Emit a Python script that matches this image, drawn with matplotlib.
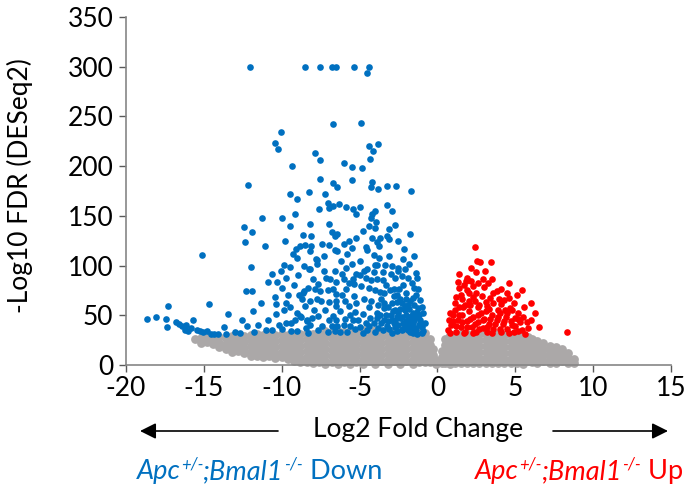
import matplotlib
matplotlib.use('Agg')
import matplotlib.pyplot as plt
import matplotlib.transforms as mtransforms
import numpy as np

plt.rcParams['font.family'] = ['Lato', 'DejaVu Sans']
plt.rcParams['axes.unicode_minus'] = False

# ---------------- data (log2 fold change, -log10 FDR) ----------------
down_points = [
    (-12.04, 300), (-8.5, 300), (-7.54, 300), (-6.77, 300), (-6.51, 300), (-5.36, 300), (-4.39, 300), (-4.5, 294),
    (-6.7, 242), (-4.89, 243), (-10.05, 234), (-10.41, 223), (-10.22, 217), (-7.86, 213), (-7.54, 206), (-5.98, 203),
    (-5.47, 199), (-4.86, 198), (-4.41, 220), (-3.83, 222), (-4.12, 215), (-4.31, 207), (-9.32, 200), (-7.54, 187),
    (-6.7, 183), (-6.47, 179), (-5.5, 186), (-4.2, 184), (-4.25, 179), (-3.8, 177), (-3.26, 180), (-2.68, 180),
    (-1.71, 175), (-8.23, 174), (-7.22, 172), (-12.14, 181), (-9.47, 172), (-9.02, 167), (-7.0, 163), (-6.7, 160),
    (-6.96, 158), (-7.58, 157), (-6.32, 162), (-11.28, 148), (-9.98, 148), (-9.15, 152), (-12.42, 139), (-9.45, 140),
    (-8.16, 142), (-6.95, 142), (-5.87, 159), (-5.4, 157), (-4.99, 159), (-5.25, 152), (-4.0, 155), (-4.2, 152),
    (-4.25, 148), (-3.94, 144), (-3.22, 161), (-2.92, 155), (-4.41, 140), (-3.99, 138), (-3.09, 137), (-2.7, 141),
    (-11.93, 134), (-12.38, 124), (-11.07, 120), (-8.63, 131), (-8.12, 130), (-6.79, 134), (-6.58, 130), (-7.43, 122),
    (-6.96, 121), (-8.14, 120), (-8.82, 120), (-9.1, 117), (-9.27, 112), (-7.8, 107), (-7.71, 102), (-9.83, 101),
    (-9.47, 99), (-8.2, 97), (-8.93, 91), (-10.03, 95), (-11.95, 99), (-7.15, 88), (-6.9, 86), (-6.53, 83),
    (-10.86, 83), (-10.28, 83), (-10.0, 77), (-12.27, 74), (-11.91, 74), (-9.58, 70), (-8.87, 70), (-8.33, 77),
    (-8.57, 74), (-7.69, 81), (-7.54, 74), (-10.43, 68), (-10.35, 61), (-9.45, 58), (-8.72, 66), (-8.18, 64),
    (-7.75, 66), (-6.98, 63), (-6.49, 64), (-6.53, 59), (-11.86, 54), (-12.53, 45), (-12.25, 39), (-12.66, 32),
    (-11.03, 35), (-10.64, 35), (-10.35, 51), (-9.85, 55), (-9.04, 52), (-8.76, 48), (-8.39, 45), (-9.15, 45),
    (-9.4, 42), (-8.16, 40), (-9.96, 36), (-9.38, 34), (-9.04, 34), (-8.44, 37), (-8.05, 47), (-7.65, 49),
    (-7.41, 39), (-6.96, 45), (-6.75, 39), (-6.51, 45), (-7.5, 64),
    (-8.52, 121), (-8.18, 115), (-7.75, 106), (-8.23, 97), (-7.88, 76), (-8.63, 72), (-8.48, 59), (-8.82, 49), (-8.39, 44),
    (-1.78, 132), (-6.43, 132), (-4.23, 128), (-3.71, 128), (-3.26, 130), (-3.13, 127), (-3.9, 124), (-3.77, 120),
    (-4.59, 119), (-4.5, 116), (-6.6, 116), (-6.47, 115), (-5.83, 112), (-4.09, 111), (-3.75, 108), (-2.13, 117),
    (-2.23, 107), (-1.84, 102), (-5.47, 102), (-4.03, 101), (-3.86, 101), (-3.35, 101), (-4.55, 97), (-4.09, 94),
    (-3.47, 94), (-2.55, 98), (-2.06, 97), (-2.51, 95), (-1.36, 93), (-6.6, 95), (-6.15, 92), (-5.23, 92),
    (-4.71, 95), (-4.99, 91), (-6.02, 86), (-5.44, 86), (-4.29, 85), (-3.88, 86), (-3.47, 85), (-1.91, 88),
    (-1.61, 82), (-5.38, 81), (-4.89, 79), (-6.69, 76), (-5.87, 76), (-4.37, 77), (-3.02, 75), (-2.47, 76),
    (-2.02, 72), (-1.48, 77), (-1.23, 76), (-3.69, 73), (-3.41, 72), (-2.77, 69), (-1.37, 70), (-6.51, 71),
    (-5.34, 69), (-4.74, 66), (-4.29, 64), (-5.94, 64), (-1.76, 64), (-3.8, 60), (-5.66, 59), (-4.39, 58),
    (-3.15, 58), (-2.58, 63), (-2.08, 59), (-1.23, 57), (-6.26, 54), (-5.29, 53), (-4.78, 51), (-3.88, 52),
    (-2.83, 54), (-1.55, 52), (-6.73, 49), (-5.94, 46), (-5.44, 45), (-4.33, 47), (-3.43, 45), (-2.4, 47),
    (-1.87, 45), (-1.12, 45), (-6.47, 39), (-5.61, 39), (-4.97, 38), (-4.37, 39), (-3.8, 37), (-3.26, 39),
    (-2.72, 38), (-2.08, 39), (-1.44, 37), (-0.9, 34), (-6.26, 33), (-4.76, 32), (-4.0, 33), (-2.94, 32), (-1.76, 33),
    (-3.0, 50), (-2.7, 44), (-2.5, 52), (-2.2, 42), (-2.0, 50), (-1.8, 56), (-1.6, 42), (-1.4, 48), (-1.2, 40),
    (-1.0, 38), (-2.9, 62), (-2.6, 34), (-2.3, 35), (-1.9, 35), (-1.6, 32), (-1.3, 31), (-1.0, 32), (-3.3, 50),
    (-2.4, 56), (-2.0, 66), (-1.7, 49), (-1.5, 60), (-2.8, 42), (-3.1, 36), (-3.6, 42), (-3.9, 47), (-4.6, 42),
    (-5.1, 45), (-5.6, 50), (-6.0, 40), (-7.2, 55), (-7.9, 55), (-5.2, 62), (-3.6, 66), (-2.2, 80), (-2.7, 88),
    (-3.1, 110), (-5.0, 105), (-5.7, 125), (-4.8, 135), (-2.5, 125),
    (-9.8, 125), (-9.0, 108), (-8.6, 100), (-7.3, 95), (-6.2, 105), (-5.5, 118), (-5.9, 98), (-7.0, 75),
    (-6.1, 70), (-5.7, 82), (-9.7, 88), (-9.2, 80), (-10.6, 92), (-11.3, 62), (-10.9, 45), (-9.7, 62),
    (-8.0, 86), (-7.3, 110), (-6.0, 122), (-5.2, 128), (-4.6, 88), (-4.0, 75), (-3.3, 80), (-3.0, 92),
    (-2.9, 100), (-2.3, 90), (-1.5, 110), (-1.3, 88), (-1.1, 65), (-0.9, 52), (-0.8, 42), (-1.2, 50),
    (-1.0, 58), (-2.3, 62), (-2.6, 70), (-3.4, 57), (-3.7, 50), (-4.1, 42), (-4.5, 35), (-5.3, 36),
    (-5.8, 33), (-6.6, 34), (-7.0, 33), (-7.7, 35), (-8.3, 32), (-9.7, 42), (-10.2, 40), (-11.5, 40),
    (-11.8, 33), (-13.0, 33), (-13.6, 31),
    (-2.9, 45), (-2.7, 55), (-2.5, 40), (-2.3, 48), (-2.1, 55), (-1.9, 41), (-1.7, 38), (-1.5, 45),
    (-1.3, 53), (-1.1, 42), (-2.6, 48), (-2.2, 36), (-1.8, 46), (-1.4, 35), (-3.2, 44), (-3.5, 35),
    (-3.4, 62), (-2.0, 44), (-1.6, 67), (-1.9, 60), (-2.4, 66), (-2.8, 76),
    (-18.63, 46), (-18.05, 48), (-17.41, 46), (-17.28, 59), (-17.39, 38), (-16.81, 43), (-16.58, 41), (-16.4, 39),
    (-16.15, 40), (-16.23, 35), (-16.04, 34), (-15.83, 37), (-15.68, 45), (-15.46, 35), (-15.25, 34), (-15.04, 33),
    (-14.82, 34), (-14.65, 61), (-14.54, 31), (-14.33, 31), (-14.11, 31), (-13.71, 38), (-13.43, 51), (-15.1, 111),
]

up_points = [
    (2.41, 119), (2.56, 105), (2.74, 104), (3.46, 104), (2.14, 98), (2.48, 94), (3.04, 95), (1.41, 92),
    (1.84, 84), (2.16, 84), (3.25, 82), (4.6, 82), (1.39, 77), (1.92, 75), (2.27, 79), (3.8, 74),
    (4.45, 72), (5.43, 75), (1.6, 66), (2.31, 68), (2.87, 69), (3.38, 67), (3.98, 66), (4.62, 67),
    (5.99, 62), (5.56, 58), (6.25, 52), (6.55, 38), (8.3, 33), (1.15, 55), (1.67, 58), (2.1, 60),
    (2.63, 58), (3.21, 59), (4.35, 55), (4.67, 57), (5.16, 46), (5.74, 43), (0.74, 45), (0.7, 35),
    (0.9, 40), (1.0, 50), (1.2, 33), (1.3, 45), (1.5, 38), (1.6, 50), (1.8, 33), (1.9, 44), (2.0, 54),
    (2.2, 38), (2.3, 48), (2.5, 33), (2.6, 43), (2.8, 52), (2.9, 37), (3.0, 46), (3.2, 33), (3.3, 41),
    (3.5, 50), (3.6, 36), (3.8, 45), (3.9, 55), (4.1, 33), (4.2, 41), (4.4, 48), (4.5, 36), (4.7, 44),
    (4.9, 33), (5.0, 39), (5.2, 52), (5.4, 35), (5.6, 31), (1.1, 62), (1.5, 70), (2.0, 64), (2.5, 72),
    (3.0, 78), (3.6, 62), (4.1, 61), (4.9, 62), (1.9, 88), (2.9, 86), (5.1, 70), (0.8, 52), (1.4, 58),
    (3.3, 56), (4.0, 52), (2.7, 60),
    (0.8, 32), (1.0, 44), (1.2, 39), (1.4, 50), (1.6, 43), (1.7, 32), (1.9, 38), (2.1, 46), (2.3, 32),
    (2.4, 41), (2.6, 50), (2.7, 36), (2.9, 45), (3.1, 54), (3.2, 38), (3.4, 46), (3.5, 32), (3.7, 41),
    (3.9, 48), (4.0, 36), (4.3, 44), (4.5, 52), (4.6, 32), (4.8, 40), (5.0, 47), (5.2, 34), (5.3, 43),
    (5.5, 48), (1.2, 68), (1.8, 60), (2.4, 64), (3.1, 63), (3.6, 72), (4.3, 65), (4.8, 55), (5.8, 37),
    (6.0, 45), (1.7, 80), (2.6, 82), (3.5, 86), (4.1, 76), (2.0, 72), (1.3, 83),
]

ns_col_x = [-15.6, -15.2, -14.8, -14.4, -14.0, -13.6, -13.2, -12.8, -12.4, -12.0, -11.6, -11.2, -10.8,
            -10.4, -10.0, -9.6, -9.2, -8.8, -8.4, -8.0, -7.6, -7.2, -6.8, -6.4, -6.0, -5.6, -5.2, -4.8,
            -4.4, -4.0, -3.6, -3.2, -2.8, -2.4, -2.0, -1.6, -1.2, -0.8, -0.5, -0.3, -0.1, 0.1, 0.3, 0.5,
            0.8, 1.1, 1.5, 1.9, 2.3, 2.7, 3.1, 3.5, 3.9, 4.3, 4.7, 5.1, 5.5, 5.8, 6.1, 6.4, 6.8, 7.2, 7.6,
            8.0, 8.4, 8.8]
ns_col_y = [
    [26], [27, 22], [28, 23], [26, 21], [28, 22, 18], [27, 21, 16], [29, 24, 18, 13], [30, 25, 19, 14],
    [29, 23, 17, 12], [30, 25, 19, 13, 9], [31, 26, 20, 14, 9], [30, 24, 18, 12, 8], [31, 26, 20, 14, 9],
    [30, 24, 18, 12, 7], [31, 25, 19, 13, 8], [30, 24, 18, 12, 6], [31, 26, 20, 14, 8, 4],
    [31, 25, 19, 13, 7, 3], [32, 26, 20, 14, 8, 3], [31, 25, 19, 13, 7, 2], [33, 27, 21, 15, 9, 3],
    [34, 28, 22, 16, 10, 4, 1], [33, 27, 21, 15, 9, 3], [34, 28, 22, 16, 10, 4, 1], [33, 27, 21, 15, 9, 3],
    [34, 28, 22, 16, 10, 4, 1], [33, 27, 21, 15, 9, 3], [35, 29, 23, 17, 11, 5, 1], [34, 28, 22, 16, 10, 4],
    [35, 29, 23, 17, 11, 5, 1], [34, 28, 22, 16, 10, 4], [35, 29, 23, 17, 11, 5, 1], [34, 28, 22, 16, 10, 4],
    [35, 29, 23, 17, 11, 5, 1], [34, 28, 22, 16, 10, 4], [34, 29, 23, 17, 11, 5, 1], [33, 27, 21, 15, 9, 3],
    [32, 26, 20, 14, 8, 3], [26, 20, 14, 8, 3], [16, 10, 4], [5, 1], [3], [14, 8, 2], [26, 20, 14, 8, 2],
    [30, 24, 18, 12, 6, 1], [31, 25, 19, 13, 7, 2], [31, 25, 19, 13, 7, 2], [31, 25, 19, 13, 7, 2],
    [31, 25, 19, 13, 7, 2], [31, 25, 19, 13, 7, 2], [31, 25, 19, 13, 7, 2], [31, 25, 19, 13, 7, 2],
    [31, 25, 19, 13, 7, 2], [30, 24, 18, 12, 6, 2], [30, 24, 18, 12, 6, 2], [30, 24, 18, 12, 6, 2],
    [29, 23, 17, 11, 5, 1], [28, 22, 16, 10, 4], [26, 20, 14, 8, 3], [24, 18, 12, 6, 2], [22, 16, 10, 4],
    [19, 13, 7, 2], [18, 12, 6, 2], [16, 10, 4], [12, 7, 2], [6, 2],
]

x_ticks = [-20, -15, -10, -5, 0, 5, 10, 15]
y_ticks = [0, 50, 100, 150, 200, 250, 300, 350]
x_label = "Log2 Fold Change"
y_label = "-Log10 FDR (DESeq2)"
down_label = [("Apc", "italic", False), ("+/-", "italic", True), (";Bmal1", "italic", False),
              ("-/-", "italic", True), (" Down", "normal", False)]
up_label = [("Apc", "italic", False), ("+/-", "italic", True), (";Bmal1", "italic", False),
            ("-/-", "italic", True), (" Up", "normal", False)]

BLUE = '#0070C0'
RED = '#FF0000'
GREY = '#ABA8A8'

# ---------------- figure ----------------
W, H = 686, 491
fig = plt.figure(figsize=(W / 100, H / 100), dpi=100)
ax = fig.add_axes([126 / W, 1 - 365 / H, (671 - 126) / W, (365 - 17) / H])

ns_x = np.concatenate([[x] * len(ys) for x, ys in zip(ns_col_x, ns_col_y)])
ns_y = np.concatenate([np.array(ys, dtype=float) for ys in ns_col_y])
dn = np.array(down_points)
up = np.array(up_points)

ax.scatter(ns_x, ns_y, s=40, color=GREY, linewidths=0, zorder=2, clip_on=False)
ax.scatter(dn[:, 0], dn[:, 1], s=23, color=BLUE, linewidths=0, zorder=3, clip_on=False)
ax.scatter(up[:, 0], up[:, 1], s=23, color=RED, linewidths=0, zorder=3, clip_on=False)

ax.set_xlim(-20, 15)
ax.set_ylim(0, 350)
ax.set_xticks(x_ticks)
ax.set_yticks(y_ticks)
ax.set_xticklabels([str(v) for v in x_ticks])
ax.set_yticklabels([str(v) for v in y_ticks])

for s in ['top', 'right']:
    ax.spines[s].set_visible(False)
for s in ['left', 'bottom']:
    ax.spines[s].set_color('#868686')
    ax.spines[s].set_linewidth(1.2)
ax.tick_params(axis='both', direction='out', length=5, width=1, color='#595959',
               labelsize=19, labelcolor='black')
ax.tick_params(axis='x', pad=3)
ax.tick_params(axis='y', pad=4)

fig.text(20 / W, 1 - 186 / H, y_label, rotation=90, ha='center', va='center', fontsize=19)
fig.text(418 / W, 1 - 430 / H, x_label, ha='center', va='center', fontsize=19)

for x0, x1 in [(278, 140), (553, 668)]:
    ax.annotate('', xy=(x1, H - 431), xytext=(x0, H - 431), xycoords='figure pixels',
                textcoords='figure pixels',
                arrowprops=dict(arrowstyle='-|>', mutation_scale=24, lw=1.2, color='black',
                                shrinkA=0, shrinkB=0))

# rich labels with superscripts
renderer = fig.canvas.get_renderer()
ident = mtransforms.IdentityTransform()


def rich_label(pieces, x_px, base_px, color, align):
    size_main, size_sup, raise_px = 19.5, 12, 10
    arts = []
    for txt, style, sup in pieces:
        t = fig.text(0, 0, txt, fontsize=size_sup if sup else size_main, fontstyle=style,
                     color=color, va='baseline', ha='left', transform=ident)
        arts.append((t, sup))
    widths = [t.get_window_extent(renderer).width for t, _ in arts]
    total = sum(widths)
    x = x_px if align == 'left' else x_px - total
    for (t, sup), w in zip(arts, widths):
        t.set_position((x, H - base_px + (raise_px if sup else 0)))
        x += w


rich_label(down_label, 137, 479, BLUE, 'left')
rich_label(up_label, 683, 479, RED, 'right')

fig.savefig('out.png', dpi=100)
